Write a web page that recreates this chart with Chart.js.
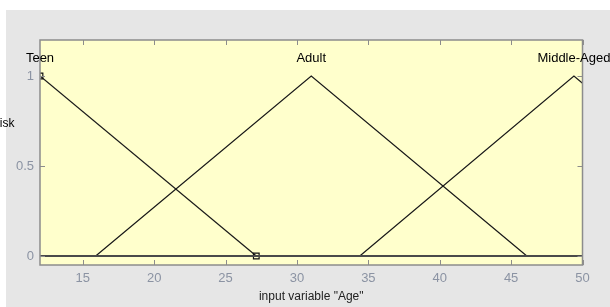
<!DOCTYPE html>
<html lang="en">
<head>
  <meta charset="UTF-8">
  <title>Membership functions - Age</title>
  <script src="https://cdn.jsdelivr.net/npm/chart.js"></script>
  <style>
    body {
      margin: 0;
      background: #fff;
      width: 610px;
      height: 307px;
      overflow: hidden;
      position: relative;
    }
    #panel {
      position: absolute;
      left: 6px;
      top: 10px;
      right: 0;
      bottom: 0;
      background: #e6e6e6;
    }
    #wrap {
      position: absolute;
      left: 0;
      top: 0;
      width: 610px;
      height: 307px;
    }
  </style>
</head>
<body>
  <div id="panel"></div>
  <div id="wrap"><canvas id="mfChart"></canvas></div>

  <script>
    // ---- values ----
    const mfNames = ['Teen', 'Adult', 'Middle-Aged'];
    const mfPeaks = [12, 31, 49.4];
    const teenX = [12, 27.15];
    const teenY = [1, 0];
    const adultX = [15.9, 31.0, 46.1];
    const adultY = [0, 1, 0];
    const middleX = [34.4, 49.4, 50];
    const middleY = [0, 1, 0.96];
    const baseX = [12, 50];
    const baseY = [0, 0];
    const xTicks = [15, 20, 25, 30, 35, 40, 45, 50];
    const yTicks = [0, 0.5, 1];
    const xRange = [12, 50];
    const yRange = [-0.05, 1.2];

    const FONT = '"Liberation Sans", Arial, sans-serif';
    const toPts = (xs, ys) => xs.map((v, i) => ({ x: v, y: ys[i] }));

    // yellow plot area, grey box, inward ticks, MF names and the (clipped) y label
    const frame = {
      id: 'frame',
      beforeDatasetsDraw(chart) {
        const { ctx, chartArea: a } = chart;
        ctx.save();
        ctx.fillStyle = '#ffffcc';
        ctx.fillRect(a.left, a.top, a.right - a.left, a.bottom - a.top);
        ctx.restore();
      },
      afterDraw(chart) {
        const { ctx, chartArea: a, scales: { x, y } } = chart;
        ctx.save();
        ctx.strokeStyle = '#8c8c8c';
        ctx.lineWidth = 1.5;
        ctx.strokeRect(a.left, a.top, a.right - a.left, a.bottom - a.top);
        ctx.lineWidth = 1;
        ctx.beginPath();
        xTicks.forEach(v => {
          const px = Math.round(x.getPixelForValue(v)) + 0.5;
          ctx.moveTo(px, a.bottom); ctx.lineTo(px, a.bottom - 5);
          ctx.moveTo(px, a.top); ctx.lineTo(px, a.top + 5);
        });
        yTicks.forEach(v => {
          const py = Math.round(y.getPixelForValue(v)) + 0.5;
          ctx.moveTo(a.left, py); ctx.lineTo(a.left + 5, py);
          ctx.moveTo(a.right, py); ctx.lineTo(a.right - 5, py);
        });
        ctx.stroke();

        ctx.fillStyle = '#000';
        ctx.font = '13px ' + FONT;
        ctx.textAlign = 'center';
        ctx.textBaseline = 'middle';
        mfNames.forEach((n, i) => {
          ctx.fillText(n, x.getPixelForValue(mfPeaks[i]), y.getPixelForValue(1.1));
        });
        ctx.font = '12px ' + FONT;
        ctx.textAlign = 'left';
        ctx.fillText('Risk', -8.8, 124);
        ctx.restore();
      }
    };

    const lineSet = (pts, extra) => Object.assign({
      data: pts,
      showLine: true,
      borderColor: '#1a1a1a',
      borderWidth: 1.2,
      pointRadius: 0,
      fill: false
    }, extra || {});

    new Chart(document.getElementById('mfChart'), {
      type: 'scatter',
      data: {
        datasets: [
          lineSet(toPts(baseX, baseY), { borderColor: '#4a4a4a', borderWidth: 2 }),
          lineSet(toPts(adultX, adultY)),
          lineSet(toPts(middleX, middleY)),
          lineSet(toPts(teenX, teenY), {
            pointRadius: 4,
            pointStyle: 'rect',
            pointBackgroundColor: 'rgba(0,0,0,0)',
            pointBorderColor: '#111',
            pointBorderWidth: 1.2
          })
        ]
      },
      options: {
        responsive: true,
        maintainAspectRatio: false,
        animation: false,
        layout: { padding: { top: 40, right: 27.5, left: 0, bottom: 0 } },
        plugins: { legend: { display: false }, tooltip: { enabled: false } },
        scales: {
          x: {
            type: 'linear',
            min: xRange[0],
            max: xRange[1],
            afterBuildTicks: s => { s.ticks = xTicks.map(v => ({ value: v })); },
            afterFit: s => { s.height = 42; },
            grid: { display: false, drawTicks: false },
            border: { display: false },
            ticks: { color: '#8b93a3', padding: 6, font: { size: 13, family: FONT } },
            title: {
              display: true,
              text: 'input variable "Age"',
              color: '#222',
              font: { size: 12, family: FONT },
              padding: { top: 0, bottom: 3 }
            }
          },
          y: {
            type: 'linear',
            min: yRange[0],
            max: yRange[1],
            afterBuildTicks: s => { s.ticks = yTicks.map(v => ({ value: v })); },
            afterFit: s => { s.width = 40; },
            grid: { display: false, drawTicks: false },
            border: { display: false },
            ticks: {
              color: '#8b93a3',
              padding: 6,
              font: { size: 13, family: FONT },
              callback: v => String(v)
            }
          }
        }
      },
      plugins: [frame]
    });
  </script>
</body>
</html>
